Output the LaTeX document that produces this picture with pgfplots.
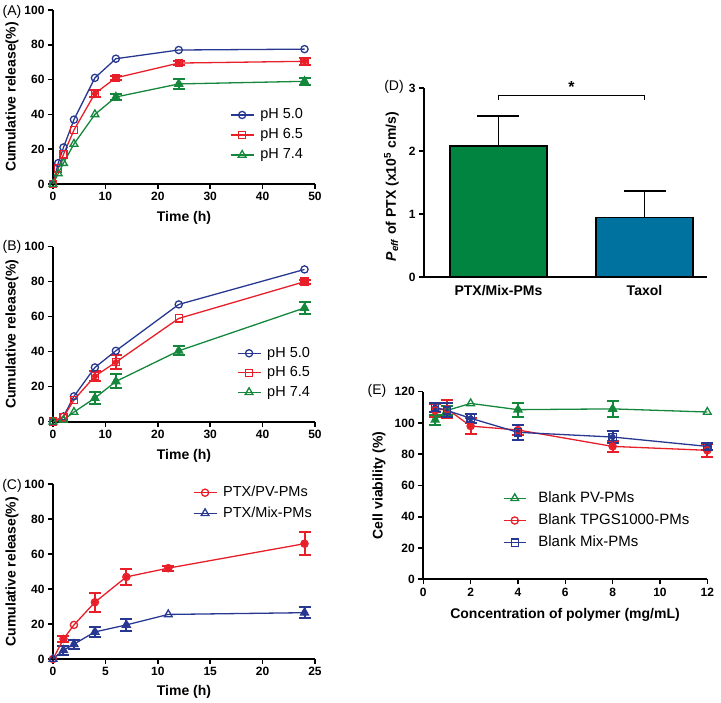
\documentclass[border=0pt]{standalone}
\usepackage{fontspec}
\setmainfont{Liberation Sans}
\usepackage{pgfplots}
\pgfplotsset{compat=1.18}
\definecolor{cblue}{RGB}{40,56,145}
\definecolor{cred}{RGB}{232,30,40}
\definecolor{cgreen}{RGB}{20,135,60}
\definecolor{bgreen}{RGB}{0,132,64}
\definecolor{bblue}{RGB}{0,114,160}
\pgfplotsset{
 prism/.style={
  scale only axis, axis lines=left, axis line style={-, line width=1.8pt},
  tick align=outside, major tick length=5pt, tick style={line width=1.6pt, black},
  /pgf/number format/assume math mode=true,
  ticklabel style={font=\bfseries\fontsize{12}{12}\selectfont},
  label style={font=\bfseries\fontsize{14}{14}\selectfont},
  clip=false,
  legend cell align=left,
  legend style={draw=none, fill=none, inner sep=0pt, outer sep=0pt,
    nodes={inner sep=0pt, text height=11pt, text depth=3pt, font=\fontsize{14.5}{14.5}\selectfont}},
  legend image code/.code={\draw[##1, mark repeat=2, mark phase=2] plot coordinates {(0pt,0pt)(11.5pt,0pt)(23pt,0pt)}; \path (29pt,0pt);},
 },
 ser/.style={line width=1.3pt, mark size=3.6pt, mark options={solid, fill=white, line width=1.3pt}},
 errb/.style={only marks, mark=none, forget plot, line width=2pt,
   error bars/.cd, y dir=both, y explicit, error bar style={line width=2pt},
   error mark options={rotate=90, line width=2pt, mark size=6pt}},
}
\begin{document}
\begin{tikzpicture}
\useasboundingbox (0,0) rectangle (721pt,703pt);
% ---------------- (A)
\begin{axis}[prism, at={(53pt,519pt)}, anchor=south west, width=262pt, height=174pt,
  xmin=0, xmax=50, ymin=0, ymax=100, xtick={0,10,...,50}, ytick={0,20,...,100},
  xlabel={Time (h)}, ylabel={Cumulative release(\%)},
  xlabel style={at={(axis description cs:0.5,-0.195)}, anchor=center},
  ylabel style={at={(axis description cs:-0.1565,0.5)}, anchor=center, rotate=0},
  legend style={at={(axis description cs:0.6756,0.4368)}, anchor=north west, row sep=6pt}]
\addplot[cred, errb] table[y error=e] {
x y e
8 52 2
12 61 1.2
24 69.5 1.2
48 70.5 2
};
\addplot[cgreen, errb] table[y error=e] {
x y e
12 50 2
24 57.5 3
48 59 2
};
\addplot[cblue, ser, mark=o] table {
x y
0 0
1 12
2 21
4 37
8 61
12 72
24 77
48 77.5
};
\addplot[cred, ser, mark=square] table {
x y
0 0
1 9
2 17
4 31
8 52
12 61
24 69.5
48 70.5
};
\addplot[cgreen, ser, mark=triangle, mark size=4.5pt] table {
x y
0 0
1 6
2 12
4 23
8 40
12 50
24 57.5
48 59
};
\legend{pH 5.0, pH 6.5, pH 7.4}
\end{axis}
% ---------------- (B)
\begin{axis}[prism, at={(53pt,281.3pt)}, anchor=south west, width=262pt, height=175pt,
  xmin=0, xmax=50, ymin=0, ymax=100, xtick={0,10,...,50}, ytick={0,20,...,100},
  xlabel={Time (h)}, ylabel={Cumulative release(\%)},
  xlabel style={at={(axis description cs:0.5,-0.195)}, anchor=center},
  ylabel style={at={(axis description cs:-0.1565,0.5)}, anchor=center, rotate=0},
  legend style={at={(axis description cs:0.702,0.431)}, anchor=north west, row sep=5.5pt}]
\addplot[cred, errb] table[y error=e] {
x y e
8 26 3
12 34 4
48 80 1.2
};
\addplot[cgreen, errb] table[y error=e] {
x y e
8 13.5 3.5
12 23 4
24 40.5 2.5
48 65 3.5
};
\addplot[cblue, ser, mark=o] table {
x y
0 0
2 3
4 14.5
8 31
12 40.5
24 67
48 87
};
\addplot[cred, ser, mark=square] table {
x y
0 0
2 2.5
4 12.5
8 26
12 34
24 59
48 80
};
\addplot[cgreen, ser, mark=triangle, mark size=4.5pt] table {
x y
0 0
2 1
4 5.5
8 13.5
12 23
24 40.5
48 65
};
\legend{pH 5.0, pH 6.5, pH 7.4}
\end{axis}
% ---------------- (C)
\begin{axis}[prism, at={(53pt,44pt)}, anchor=south west, width=262pt, height=174.7pt,
  xmin=0, xmax=25, ymin=0, ymax=100, xtick={0,5,...,25}, ytick={0,20,...,100},
  xlabel={Time (h)}, ylabel={Cumulative release(\%)},
  xlabel style={at={(axis description cs:0.5,-0.189)}, anchor=center},
  ylabel style={at={(axis description cs:-0.1565,0.5)}, anchor=center, rotate=0},
  legend style={at={(axis description cs:0.534,0.992)}, anchor=north west, row sep=6.6pt}]
\addplot[cred, errb] table[y error=e] {
x y e
1 11.5 1.5
4 32.5 5.5
7 47 4.5
11 52 1.5
24 66 6.5
};
\addplot[cblue, errb] table[y error=e] {
x y e
1 5 2.5
2 8.5 2.5
4 15.5 3
7 19.5 3.5
24 26.5 3
};
\addplot[cred, ser, mark=o] table {
x y
0 0
1 11.5
2 19.5
4 32.5
7 47
11 52
24 66
};
\addplot[cblue, ser, mark=triangle, mark size=4.5pt] table {
x y
0 0
1 5
2 8.5
4 15.5
7 19.5
11 25.5
24 26.5
};
\legend{PTX/PV-PMs, PTX/Mix-PMs}
\end{axis}
% ---------------- (D)
\begin{axis}[prism, at={(424pt,425.7pt)}, anchor=south west, width=283pt, height=189pt,
  xmin=0.49, xmax=2.428, ymin=0, ymax=3, ytick={0,1,2,3},
  xtick={1,2}, xticklabels={PTX/Mix-PMs, Taxol}, xtick style={draw=none},
  xticklabel style={font=\bfseries\fontsize{14}{14}\selectfont},
  ylabel={\textit{P}\textsubscript{\textit{eff}} of PTX (x10\textsuperscript{5} cm/s)},
  ylabel style={at={(axis description cs:-0.115,0.48)}, anchor=center, rotate=0}]
\addplot[ybar, bar width=0.664, fill=bgreen, draw=black, line width=1.8pt,
  error bars/.cd, y dir=plus, y explicit, error bar style={line width=1.8pt, black},
  error mark options={rotate=90, line width=1.8pt, mark size=21pt, black}]
  coordinates {(1,2.08) +- (0,0.48)};
\addplot[ybar, bar width=0.664, fill=bblue, draw=black, line width=1.8pt,
  error bars/.cd, y dir=plus, y explicit, error bar style={line width=1.8pt, black},
  error mark options={rotate=90, line width=1.8pt, mark size=21pt, black}]
  coordinates {(2,0.95) +- (0,0.42)};
\draw[line width=1.3pt] (axis cs:1,2.82) -- (axis cs:1,2.89) -- (axis cs:2,2.89) -- (axis cs:2,2.82);
\node[font=\bfseries\fontsize{16}{16}\selectfont] at (axis cs:1.5,3.02) {*};
\end{axis}
% ---------------- (E)
\begin{axis}[prism, at={(423.3pt,123.7pt)}, anchor=south west, width=284pt, height=187.6pt,
  xmin=0, xmax=12, ymin=0, ymax=120, xtick={0,2,...,12}, ytick={0,20,...,120},
  xlabel={Concentration of polymer (mg/mL)}, ylabel={Cell viability (\%)},
  xlabel style={at={(axis description cs:0.499,-0.19)}, anchor=center},
  ylabel style={at={(axis description cs:-0.156,0.5)}, anchor=center, rotate=0},
  legend style={at={(axis description cs:0.281,0.469)}, anchor=north west, row sep=8.2pt,
    nodes={font=\fontsize{15}{15}\selectfont}},
  legend image code/.code={\draw[#1, mark repeat=2, mark phase=2] plot coordinates {(0pt,0pt)(11pt,0pt)(22pt,0pt)}; \path (34pt,0pt);}]
\addplot[cgreen, errb] table[y error=e] {
x y e
0.5 102 3
1 108 3
4 108.5 4.5
8 109 5
};
\addplot[cred, errb] table[y error=e] {
x y e
0.5 108 4
1 109 6
2 98 5
4 95.5 3
8 85 3.5
12 82.5 4
};
\addplot[cblue, errb] table[y error=e] {
x y e
0.5 110 3
1 108 4.5
2 103 3
4 94 5
8 91 4
12 85 2
};
\addplot[cgreen, ser, mark=triangle, mark size=4.5pt] table {
x y
0.5 102
1 108
2 112.5
4 108.5
8 109
12 107
};
\addplot[cred, ser, mark=o] table {
x y
0.5 108
1 109
2 98
4 95.5
8 85
12 82.5
};
\addplot[cblue, ser, mark=square] table {
x y
0.5 110
1 108
2 103
4 94
8 91
12 85
};
\legend{Blank PV-PMs, Blank TPGS1000-PMs, Blank Mix-PMs}
\end{axis}
% panel labels
\node[font=\fontsize{14}{14}\selectfont] at (12pt,691pt) {(A)};
\node[font=\fontsize{14}{14}\selectfont] at (12pt,456pt) {(B)};
\node[font=\fontsize{14}{14}\selectfont] at (12pt,217pt) {(C)};
\node[font=\fontsize{14}{14}\selectfont] at (394pt,616pt) {(D)};
\node[font=\fontsize{14}{14}\selectfont] at (377pt,312pt) {(E)};
\end{tikzpicture}
\end{document}
